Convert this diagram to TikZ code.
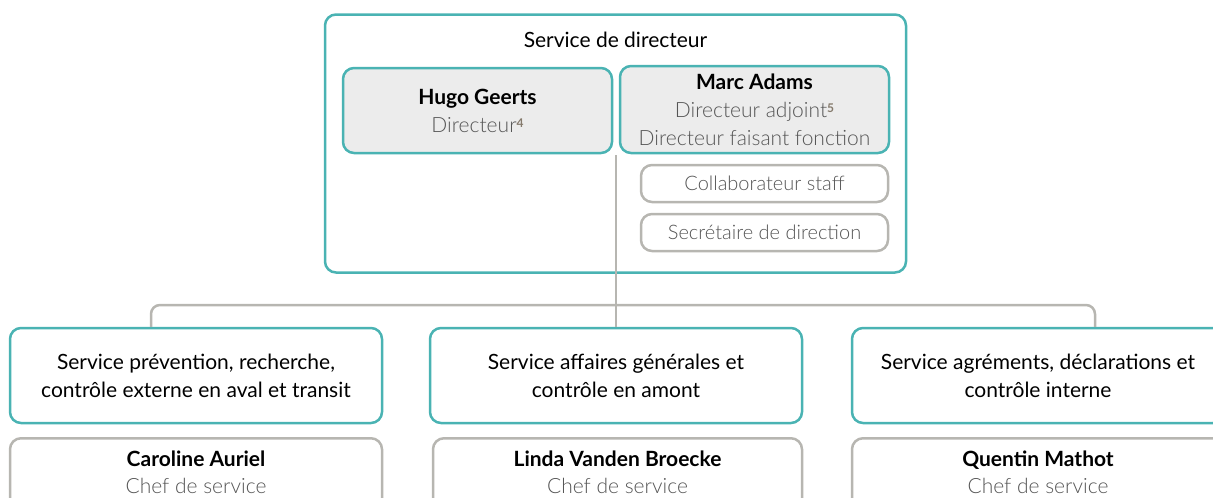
\documentclass[tikz,border=0pt]{standalone}
\usepackage{fontspec}
\setmainfont{Lato}
\newfontfamily\fin{Lato Light}
\usetikzlibrary{calc}

\definecolor{turquoise}{HTML}{4AB3B3}
\definecolor{gristrait}{HTML}{B7B6B1}
\definecolor{grisfond}{HTML}{ECECEC}
\definecolor{gristexte}{HTML}{555555}
\definecolor{brunnote}{HTML}{857A6C}

\newcommand{\note}[1]{\raisebox{0.45ex}{\textcolor{brunnote}{\fontsize{12}{12}\selectfont\bfseries #1}}}
\newcommand{\fonction}[1]{{\fin\color{gristexte}#1}}

\tikzset{
	cadre/.style={draw=turquoise, line width=2.5pt, rounded corners=11pt},
	boite/.style={cadre, align=center, inner sep=0pt,
		font=\fontsize{21}{28}\selectfont},
	personne/.style={boite, fill=grisfond},
	staff/.style={draw=gristrait, line width=2.5pt, rounded corners=11pt,
		align=center, inner sep=0pt, font=\fontsize{20}{27}\selectfont},
	chef/.style={staff, minimum width=372pt, minimum height=95pt, anchor=north},
	nom/.style={align=center, inner sep=0pt, font=\fontsize{21}{27}\selectfont},
	lien/.style={draw=gristrait, line width=2.5pt},
}

\begin{document}
\begin{tikzpicture}[x=1pt, y=-1pt]
	\useasboundingbox (0,0) rectangle (1213,498);
	\clip (0,0) rectangle (1213,498);

	% service de direction
	\node[cadre, minimum width=581pt, minimum height=258pt] (direction) at (615.5,143.5) {};
	\node[font=\fontsize{21}{28}\selectfont] (titre) at (615.5,40) {Service de directeur};

	\node[personne, minimum width=269pt, minimum height=85pt] (hugo) at (477.5,110.5)
		{\textbf{Hugo Geerts}\\\fonction{Directeur}\note{4}};
	\node[personne, minimum width=269pt, minimum height=87pt] (marc) at (754.5,109.5)
		{\textbf{Marc Adams}\\\fonction{Directeur adjoint}\note{5}\\\fonction{Directeur faisant fonction}};

	\node[staff, minimum width=247pt, minimum height=37pt] (collab) at (764.5,183.5)
		{\fonction{Collaborateur staff}};
	\node[staff, minimum width=247pt, minimum height=37pt] (secr) at (764.5,232.5)
		{\fonction{Secrétaire de direction}};

	% les trois services
	\node[boite, minimum width=372pt, minimum height=95pt] (svcA) at (196,375.5)
		{Service prévention, recherche,\\contrôle externe en aval et transit};
	\node[boite, minimum width=372pt, minimum height=95pt] (svcB) at (616,375.5)
		{Service affaires générales et\\contrôle en amont};
	\node[boite, minimum width=372pt, minimum height=95pt] (svcC) at (1038,375.5)
		{Service agréments, déclarations et\\contrôle interne};

	% chefs de service
	\node[chef] (chefA) at (196,437) {};
	\node[chef, minimum width=369pt] (chefB) at (617.5,437) {};
	\node[chef] (chefC) at (1038,437) {};
	\node[nom] (nomA) at ([yshift=-35pt]chefA.north) {\textbf{Caroline Auriel}\\\fonction{Chef de service}};
	\node[nom] (nomB) at ([yshift=-35pt]chefB.north) {\textbf{Linda Vanden Broecke}\\\fonction{Chef de service}};
	\node[nom] (nomC) at ([yshift=-35pt]chefC.north) {\textbf{Quentin Mathot}\\\fonction{Chef de service}};

	% liaisons
	\coordinate (depart) at ($(hugo.south east)!0.5!(marc.south west)+(0,1)$);
	\draw[lien] (depart) -- (svcB.north);
	\draw[lien, rounded corners=9pt] ([xshift=-45pt]svcA.north) |- (svcB.north |- 0,305)
		-| ([xshift=57pt]svcC.north);
\end{tikzpicture}
\end{document}
